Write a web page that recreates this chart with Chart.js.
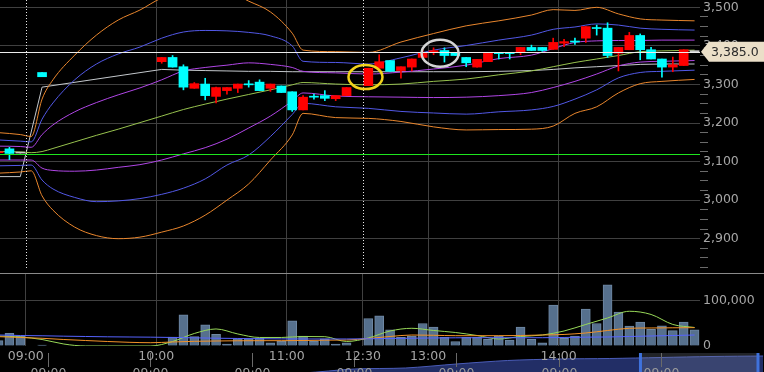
<!DOCTYPE html>
<html lang="ja">
<head>
<meta charset="utf-8">
<title>5分足チャート</title>
<script src="https://cdn.jsdelivr.net/npm/chart.js@4.4.1/dist/chart.umd.min.js"></script>
<style>
  html, body { margin: 0; padding: 0; background: #000; overflow: hidden; }
  #board { position: relative; width: 764px; height: 372px; overflow: hidden; background: #000; }
  #board canvas { position: absolute; left: 0; }
  #navChart { top: 350px; }
  #priceChart { top: 0; }
  #volumeChart { top: 273px; }
  #paneSep { position: absolute; left: 0; top: 273px; width: 764px; height: 1px; background: #8a8a8a; }
</style>
</head>
<body>
<div id="board">
  <canvas id="navChart" width="764" height="40"></canvas>
  <canvas id="priceChart" width="764" height="273"></canvas>
  <canvas id="volumeChart" width="764" height="89"></canvas>
  <div id="paneSep"></div>
</div>
<script>
// === Price pane data (5-minute bars, slot 0 = 09:00, slot 31 = 12:30) ===
const lastPrice = 3385;
const prevClose = 3120;

const candleSlots = [-3, -2, -1, 1, 12, 13, 14, 15, 16, 17, 18, 19, 20, 21, 22, 23, 24, 25, 26, 27, 28, 29,
  31, 32, 33, 34, 35, 36, 37, 38, 39, 40, 41, 42, 43, 44, 45, 46, 47, 48, 49, 50, 51, 52, 53, 54, 55, 56, 57, 58, 59, 60, 61];
const candleOpen = [3123, 3133, 3122, 3331, 3359, 3370, 3346, 3290, 3301, 3269, 3284, 3290, 3300, 3306, 3290, 3296, 3281, 3234, 3268, 3271, 3263, 3271,
  3297, 3342, 3362, 3336, 3345, 3370, 3385, 3388, 3383, 3370, 3345, 3359, 3381, 3381, 3383, 3396, 3396, 3391, 3407, 3411, 3420, 3446, 3446, 3381, 3390, 3427, 3390, 3366, 3345, 3349, 3385];
const candleHigh = [3126, 3137, 3122, 3331, 3370, 3375, 3351, 3305, 3316, 3293, 3292, 3301, 3310, 3312, 3301, 3296, 3281, 3271, 3275, 3284, 3271, 3292,
  3342, 3377, 3362, 3346, 3366, 3390, 3395, 3395, 3383, 3370, 3365, 3382, 3381, 3381, 3396, 3402, 3396, 3420, 3417, 3420, 3450, 3454, 3460, 3396, 3435, 3431, 3396, 3366, 3371, 3390, 3385];
const candleLow = [3122, 3105, 3122, 3320, 3355, 3345, 3286, 3290, 3260, 3252, 3275, 3279, 3293, 3284, 3282, 3279, 3230, 3234, 3262, 3258, 3258, 3271,
  3297, 3342, 3334, 3316, 3335, 3370, 3377, 3358, 3375, 3346, 3345, 3359, 3366, 3366, 3377, 3388, 3386, 3391, 3398, 3404, 3409, 3428, 3370, 3335, 3390, 3364, 3366, 3319, 3333, 3349, 3385];
const candleClose = [3125, 3121, 3122, 3320, 3370, 3345, 3293, 3302, 3271, 3292, 3292, 3301, 3299, 3284, 3301, 3279, 3234, 3267, 3267, 3264, 3271, 3292,
  3342, 3359, 3334, 3346, 3366, 3383, 3387, 3375, 3375, 3356, 3365, 3382, 3380, 3380, 3396, 3388, 3388, 3409, 3411, 3410, 3450, 3445, 3375, 3396, 3427, 3390, 3366, 3345, 3351, 3390, 3385];

// bands and averages are read at these slots
const bandSlots = [-3, -1, 0, 1, 2, 4, 6, 8, 10, 12, 14, 16, 18, 20, 22, 24, 25, 28, 31, 34, 37, 40, 43, 46, 48, 50, 52, 54, 56, 58, 61];
const outerUpper = [3175, 3170, 3165, 3262, 3312, 3376, 3428, 3467, 3493, 3524, 3537, 3545, 3542, 3516, 3488, 3433, 3389, 3385, 3383, 3410, 3432, 3452, 3465, 3480, 3494, 3492, 3500, 3483, 3470, 3467, 3465];
const outerLower = [3070, 3073, 3076, 3011, 2974, 2930, 2908, 2900, 2904, 2917, 2933, 2961, 3000, 3042, 3104, 3169, 3225, 3214, 3212, 3204, 3190, 3182, 3183, 3184, 3192, 3225, 3242, 3278, 3302, 3308, 3313];
const midUpper = [3156, 3153, 3151, 3210, 3252, 3312, 3353, 3379, 3397, 3420, 3436, 3440, 3439, 3435, 3426, 3400, 3360, 3357, 3353, 3369, 3389, 3401, 3415, 3428, 3443, 3449, 3457, 3454, 3446, 3443, 3441];
const midLower = [3089, 3090, 3091, 3052, 3029, 3007, 2996, 2998, 3004, 3015, 3031, 3055, 3091, 3117, 3165, 3222, 3251, 3242, 3238, 3230, 3226, 3223, 3229, 3234, 3243, 3262, 3286, 3317, 3331, 3334, 3337];
const innerUpper = [3140, 3139, 3137, 3170, 3195, 3229, 3253, 3273, 3291, 3312, 3335, 3344, 3350, 3356, 3352, 3344, 3334, 3330, 3327, 3332, 3340, 3350, 3367, 3376, 3393, 3409, 3413, 3414, 3414, 3415, 3415];
const innerLower = [3104, 3104, 3104, 3083, 3077, 3075, 3078, 3085, 3092, 3104, 3120, 3136, 3158, 3187, 3218, 3257, 3278, 3270, 3268, 3267, 3266, 3267, 3271, 3279, 3292, 3308, 3327, 3348, 3358, 3360, 3362];
const centerLine = [3126, 3125, 3123, 3126, 3134, 3151, 3168, 3184, 3201, 3218, 3235, 3249, 3262, 3274, 3286, 3299, 3305, 3301, 3299, 3301, 3308, 3314, 3325, 3335, 3346, 3357, 3366, 3375, 3385, 3387, 3389];
const vwapLine = [3061, 3061, null, 3293, null, null, null, null, null, 3339, 3337, 3336, 3335, 3334, 3334, 3333, 3333, 3333, 3333, 3333, 3333, 3333, 3334, 3336, 3339, 3343, 3346, 3349, 3352, 3353, 3353];

// === Volume pane data ===
const volumeValues = [12000, 28000, 22000, 2000, 0, 20000, 69000, 21000, 47000, 26000, 4000, 16000, 16000, 17000, 7000, 11000, 56000, 22000, 11000, 16000, 4000, 7000,
  61000, 67000, 36000, 19000, 22000, 50000, 42000, 19000, 10000, 19000, 19000, 15000, 22000, 13000, 42000, 15000, 7000, 91000, 17000, 22000, 82000, 50000, 136000, 75000, 44000, 53000, 37000, 45000, 34000, 53000, 36000];
const volLineSlots = [-3, -1, 1, 3, 5, 7, 9, 11, 13, 15, 17, 19, 21, 23, 25, 27, 29, 31, 33, 35, 37, 39, 41, 43, 45, 47, 49, 51, 53, 55, 57, 59, 61];
const volShortAvg = [22200, 20000, 14400, 4400, 0, 0, 0, 0, 10000, 27800, 37800, 26700, 18900, 18900, 21100, 20700, 10000, 17800, 33300, 39300, 34400, 30000, 23300, 15600, 21100, 24400, 33300, 47800, 62200, 77100, 70000, 47800, 41100];
const volMidAvg = [20700, 18900, 17100, 14400, 12200, 10000, 8200, 7300, 8900, 10400, 11100, 11600, 11800, 11800, 12200, 12900, 13300, 16700, 21100, 24400, 23800, 22900, 22900, 22900, 23300, 24400, 25600, 28900, 34400, 39300, 40000, 40400, 40700];
const volLongAvg = [24400, 23300, 22700, 21800, 21100, 20400, 20000, 19600, 18900, 18200, 17300, 16700, 16200, 15800, 15600, 15600, 15600, 16000, 16700, 17300, 17800, 18200, 18400, 18400, 18400, 18400, 18900, 19600, 20000, 21100, 22200, 23300, 24400];

// === Axis labels ===
const timeTickSlots = [-0.5, 11.5, 23.5, 30.5, 36.5, 48.5];
const timeTickLabels = ['09:00', '10:00', '11:00', '12:30', '13:00', '14:00'];
const sessionBreaks = [-0.5, 30.5];
const priceMajorTicks = [2900, 3000, 3100, 3200, 3300, 3400, 3500];
const volumeTicks = [0, 100000];

// === Navigator data (one unit per day) ===
const navSlots = [-0.5, 0, 0.5, 1, 1.5, 2, 2.5, 3, 3.5, 4, 4.5, 5, 5.5, 6, 6.5, 7];
const navLevels = [5, 5, 5, 5, 5, 5.5, 7, 11, 12, 16, 19.5, 21, 21.5, 22.5, 23.5, 24];
const navTickSlots = [0, 1, 2, 3, 4, 5, 6];
const navTickLabels = ['09:00', '09:00', '09:00', '09:00', '09:00', '09:00', '09:00'];
const navWindow = [5.8, 6.95];

// hand-drawn circles on the chart
const markCircles = [
  { slot: 30.74, price: 3319, rx: 17, ry: 12, color: '#f2d21b' },
  { slot: 37.6, price: 3381, rx: 18.5, ry: 13.5, color: '#d4d4d4' },
];

const slotMin = -2.869, slotMax = 61.5;
const gridColor = '#404040';
const labelColor = '#a6a6a6';

Chart.defaults.font.family = "'DejaVu Sans', sans-serif";
Chart.defaults.font.size = 12.5;

const points = (slots, values) => slots.map((x, i) => ({ x, y: values[i] }));

const baseOptions = {
  responsive: false,
  animation: false,
  events: [],
  layout: { padding: 0, autoPadding: false },
  plugins: { legend: { display: false }, tooltip: { enabled: false } },
};

document.addEventListener('DOMContentLoaded', () => {

  // === Price pane ===
  const candleColors = candleSlots.map((k, i) =>
    candleClose[i] > candleOpen[i] ? '#ff0000' : (candleClose[i] < candleOpen[i] ? '#00ffff' : '#c8c8c8'));

  const bandLine = (values, color) => ({
    type: 'line', data: points(bandSlots, values), borderColor: color, borderWidth: 1,
    pointRadius: 0, cubicInterpolationMode: 'monotone', order: 3,
  });

  const pricePane = {
    id: 'pricePane',
    afterDatasetsDraw(chart) {
      const { ctx, chartArea: a, scales: { x, y } } = chart;
      ctx.save();
      ctx.lineWidth = 1;

      ctx.strokeStyle = '#e8e8e8';
      ctx.setLineDash([1, 2]);
      sessionBreaks.forEach(k => {
        const px = Math.round(x.getPixelForValue(k)) + 0.5;
        ctx.beginPath();
        ctx.moveTo(px, a.top);
        ctx.lineTo(px, a.bottom - 5);
        ctx.stroke();
      });
      ctx.setLineDash([]);

      [[prevClose, '#1ee61e'], [lastPrice, '#ececec']].forEach(([v, c]) => {
        const py = Math.round(y.getPixelForValue(v)) + 0.5;
        ctx.strokeStyle = c;
        ctx.beginPath();
        ctx.moveTo(a.left, py);
        ctx.lineTo(a.right, py);
        ctx.stroke();
      });

      ctx.lineWidth = 2.5;
      markCircles.forEach(m => {
        ctx.strokeStyle = m.color;
        ctx.beginPath();
        ctx.ellipse(x.getPixelForValue(m.slot), y.getPixelForValue(m.price), m.rx, m.ry, 0, 0, Math.PI * 2);
        ctx.stroke();
      });
      ctx.restore();
    },
    afterDraw(chart) {
      // last price tag on the axis
      const { ctx, chartArea: a, scales: { y } } = chart;
      const py = y.getPixelForValue(lastPrice);
      const left = a.right + 1;
      ctx.save();
      ctx.fillStyle = '#ebdfc8';
      ctx.beginPath();
      ctx.moveTo(left, py);
      ctx.lineTo(left + 8, py - 10);
      ctx.lineTo(chart.width, py - 10);
      ctx.lineTo(chart.width, py + 10);
      ctx.lineTo(left + 8, py + 10);
      ctx.closePath();
      ctx.fill();
      ctx.fillStyle = '#2a2a2a';
      ctx.font = "12.5px 'DejaVu Sans', sans-serif";
      ctx.textAlign = 'left';
      ctx.textBaseline = 'middle';
      ctx.fillText(lastPrice.toLocaleString('en-US', { minimumFractionDigits: 1 }), left + 10, py + 1);
      ctx.restore();
    },
  };

  new Chart(document.getElementById('priceChart'), {
    type: 'bar',
    data: {
      datasets: [
        bandLine(outerUpper, '#e9862d'),
        bandLine(outerLower, '#e9862d'),
        bandLine(midUpper, '#5258e6'),
        bandLine(midLower, '#5258e6'),
        bandLine(innerUpper, '#b046e6'),
        bandLine(innerLower, '#b046e6'),
        bandLine(centerLine, '#97c24e'),
        {
          type: 'line', data: points(bandSlots, vwapLine), borderColor: '#c4c8cc', borderWidth: 1,
          pointRadius: 0, spanGaps: true, tension: 0, order: 3,
        },
        {
          data: candleSlots.map((x, i) => ({ x, y: [candleLow[i], candleHigh[i]] })),
          backgroundColor: candleColors, barThickness: 1, grouped: false, order: 2,
        },
        {
          data: candleSlots.map((x, i) => ({ x, y: [candleOpen[i], candleClose[i]] })),
          backgroundColor: candleColors, barThickness: 9, minBarLength: 1, grouped: false, order: 1,
        },
      ],
    },
    options: {
      ...baseOptions,
      scales: {
        x: {
          type: 'linear', min: slotMin, max: slotMax, offset: false,
          grid: { color: c => sessionBreaks.includes(c.tick && c.tick.value) ? 'transparent' : gridColor, drawTicks: false, offset: false },
          border: { display: false },
          ticks: { display: false, autoSkip: false },
          afterBuildTicks: s => { s.ticks = timeTickSlots.map(value => ({ value })); },
          afterFit: s => { s.height = 0; s.paddingLeft = 0; s.paddingRight = 0; },
        },
        y: {
          position: 'right', min: 2811, max: 3519, beginAtZero: false,
          grid: {
            color: c => c.tick && priceMajorTicks.includes(c.tick.value) ? gridColor : 'transparent',
            tickColor: c => c.tick && priceMajorTicks.includes(c.tick.value) ? 'transparent' : '#6a6a6a',
            tickLength: 8,
          },
          border: { display: false },
          ticks: {
            color: labelColor, padding: -5, autoSkip: false,
            callback: v => priceMajorTicks.includes(v) ? v.toLocaleString('en-US') : '',
          },
          afterBuildTicks: s => {
            const t = [];
            for (let v = 2825; v <= 3500; v += 25) t.push({ value: v });
            s.ticks = t;
          },
          afterFit: s => { s.width = 64; s.paddingTop = 0; s.paddingBottom = 0; },
        },
      },
    },
    plugins: [pricePane],
  });

  // === Volume pane ===
  const volLine = (values, color) => ({
    type: 'line', data: points(volLineSlots, values), borderColor: color, borderWidth: 1,
    pointRadius: 0, cubicInterpolationMode: 'monotone', order: 1,
  });

  new Chart(document.getElementById('volumeChart'), {
    type: 'bar',
    data: {
      datasets: [
        volLine(volLongAvg, '#5663ff'),
        volLine(volMidAvg, '#f39228'),
        volLine(volShortAvg, '#98d858'),
        {
          data: points(candleSlots, volumeValues), backgroundColor: '#56708d', borderColor: '#6f88a4',
          borderWidth: 1, barThickness: 9, grouped: false, order: 2,
        },
      ],
    },
    options: {
      ...baseOptions,
      scales: {
        x: {
          type: 'linear', min: slotMin, max: slotMax, offset: false,
          grid: { color: gridColor, drawTicks: false, offset: false },
          border: { display: false },
          ticks: { color: labelColor, padding: 3, autoSkip: false, maxRotation: 0, callback: (v, i) => timeTickLabels[i] },
          afterBuildTicks: s => { s.ticks = timeTickSlots.map(value => ({ value })); },
          afterFit: s => { s.height = 16; s.paddingLeft = 0; s.paddingRight = 0; },
        },
        y: {
          position: 'right', min: 0, max: 162000, beginAtZero: true,
          grid: { color: c => c.tick && c.tick.value > 0 ? gridColor : 'transparent', drawTicks: false },
          border: { display: false },
          ticks: { color: labelColor, padding: 3, autoSkip: false, callback: v => v.toLocaleString('en-US') },
          afterBuildTicks: s => { s.ticks = volumeTicks.map(value => ({ value })); },
          afterFit: s => { s.width = 64; s.paddingTop = 0; s.paddingBottom = 0; },
        },
      },
    },
  });

  // === Navigator strip ===
  const navPane = {
    id: 'navPane',
    afterDatasetsDraw(chart) {
      const { ctx, scales: { x } } = chart;
      ctx.save();
      const x0 = x.getPixelForValue(navWindow[0]);
      const x1 = x.getPixelForValue(navWindow[1]);
      ctx.fillStyle = 'rgba(120,126,140,0.28)';
      ctx.fillRect(x0, 3, x1 - x0, chart.height);
      ctx.fillStyle = '#3f72dc';
      [x0, x1].forEach(px => ctx.fillRect(px - 1.5, 3, 3, chart.height));

      ctx.strokeStyle = '#6a6a6a';
      ctx.lineWidth = 1;
      ctx.fillStyle = '#9a9a9a';
      ctx.font = "12.5px 'DejaVu Sans', sans-serif";
      ctx.textAlign = 'center';
      ctx.textBaseline = 'top';
      navTickSlots.forEach((v, i) => {
        const px = Math.round(x.getPixelForValue(v)) + 0.5;
        ctx.beginPath();
        ctx.moveTo(px, 3);
        ctx.lineTo(px, 17);
        ctx.stroke();
        ctx.fillText(navTickLabels[i], px, 17);
      });
      ctx.restore();
    },
  };

  new Chart(document.getElementById('navChart'), {
    type: 'line',
    data: {
      datasets: [{
        data: points(navSlots, navLevels), fill: 'origin', backgroundColor: 'rgba(36,48,108,0.95)',
        borderColor: '#4a5cb8', borderWidth: 1, pointRadius: 0, tension: 0.3,
      }],
    },
    options: {
      ...baseOptions,
      layout: { padding: { bottom: 10 }, autoPadding: false },
      scales: {
        x: { type: 'linear', min: -0.4667, max: 7.0088, display: false },
        y: { min: 0, max: 30, display: false },
      },
    },
    plugins: [navPane],
  });
});
</script>
</body>
</html>
